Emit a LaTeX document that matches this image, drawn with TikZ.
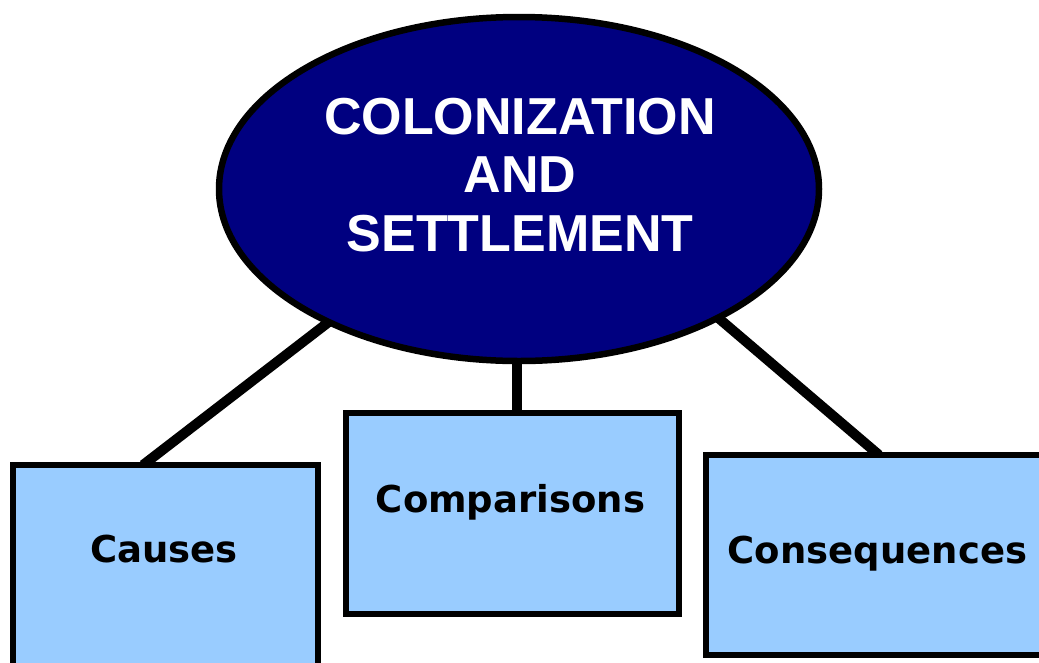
\documentclass[tikz,border=0pt]{standalone}
\usepackage{fontspec}
\setmainfont{Liberation Sans}
\newfontfamily\boxfont{DejaVu Sans}
\usetikzlibrary{shapes.geometric,backgrounds}
\definecolor{navyfill}{RGB}{0,0,128}
\definecolor{lightbluefill}{RGB}{153,204,255}
\begin{document}
\begin{tikzpicture}[x=1pt,y=-1pt,
  topic/.style={ellipse, draw=black, line width=6.5pt, fill=navyfill,
    minimum width=600pt, minimum height=344pt, inner sep=0pt},
  titletext/.style={text=white, font=\fontsize{52}{58.6}\selectfont\bfseries,
    align=center, inner sep=0pt},
  subbox/.style={rectangle, draw=black, line width=6pt, fill=lightbluefill, inner sep=0pt},
  boxtext/.style={font=\boxfont\bfseries\fontsize{37}{42}\selectfont,
    text=black, inner sep=0pt, anchor=base},
  link/.style={line width=10pt, draw=black}]
\useasboundingbox (0,0) rectangle (1039,662);
\clip (0,0) rectangle (1039,662);

% main topic
\node[topic] (ell) at (519,189) {};
\node[titletext] (title) at (520,175) {COLONIZATION\\AND\\SETTLEMENT};

% boxes
\node[subbox, minimum width=305pt, minimum height=260pt] (causes) at (165.5,595) {};
\node[subbox, minimum width=333pt, minimum height=201pt] (comparisons) at (512.5,513.5) {};
\node[subbox, minimum width=370pt, minimum height=200pt] (consequences) at (891,555) {};

\node[boxtext] (tcauses) at (164,562) {Causes};
\node[boxtext] (tcomparisons) at (510.5,512) {Comparisons};
\node[boxtext] (tconsequences) at (877.5,563.5) {Consequences};

% connector ends on the box tops
\coordinate (c1) at (143,465);
\coordinate (c2) at (517,413);
\coordinate (c3) at (879,455);

\begin{scope}[on background layer]
  \draw[link, shorten <=-20pt] (ell.215) -- (c1);
  \draw[link, shorten <=-20pt] (ell.south -| c2) -- (c2);
  \draw[link, shorten <=-20pt] (ell.327.7) -- (c3);
\end{scope}
\end{tikzpicture}
\end{document}
